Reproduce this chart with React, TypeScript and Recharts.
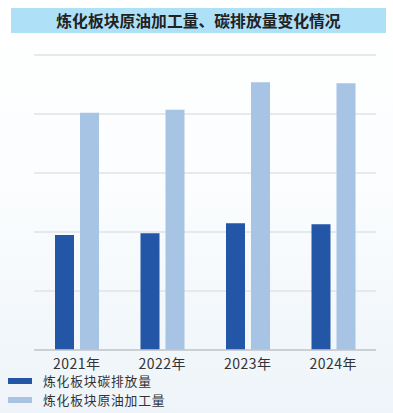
import React from "react";
import { BarChart, Bar, XAxis, YAxis, CartesianGrid } from "recharts";

const years = ["2021年", "2022年", "2023年", "2024年"];
const carbonEmission = [1.95, 1.98, 2.15, 2.13];
const crudeProcessing = [4.02, 4.07, 4.54, 4.52];
const yTicks = [0, 1, 2, 3, 4, 5];

const seriesNames = ["炼化板块碳排放量", "炼化板块原油加工量"];
const DARK = "#2356a6";
const LIGHT = "#a8c4e4";

const data = years.map((year, i) => ({
  year,
  carbon: carbonEmission[i],
  crude: crudeProcessing[i],
}));

const font = '"Noto Sans CJK SC", "Noto Sans", sans-serif';

export default function App() {
  return (
    <div
      style={{
        position: "absolute",
        left: 0,
        top: 0,
        width: 393,
        height: 413,
        overflow: "hidden",
        fontFamily: font,
        background: "linear-gradient(180deg, #ffffff 0%, #fbfdfe 45%, #eef4f9 100%)",
      }}
    >
      <div
        style={{
          position: "absolute",
          left: 11,
          top: 8,
          width: 375,
          height: 25,
          background: "#aee0f8",
          color: "#222",
          fontWeight: 700,
          fontSize: 15.8,
          lineHeight: "25px",
          textAlign: "center",
        }}
      >
        炼化板块原油加工量、碳排放量变化情况
      </div>
      <div style={{ position: "absolute", left: 0, top: 0 }}>
        <BarChart
          width={393}
          height={375}
          data={data}
          margin={{ top: 55, right: 17, bottom: 5, left: 34 }}
          barSize={19}
          barGap={6}
        >
          <CartesianGrid vertical={false} stroke="#dfe3e7" strokeWidth={1.5} />
          <YAxis hide domain={[0, 5]} ticks={yTicks} />
          <XAxis
            dataKey="year"
            height={20}
            tickLine={false}
            axisLine={{ stroke: "#c4c9ce", strokeWidth: 1.5 }}
            tickMargin={3}
            tick={{ fill: "#333", fontSize: 14, fontFamily: font, letterSpacing: 0.5 }}
          />
          <Bar dataKey="carbon" name={seriesNames[0]} fill={DARK} isAnimationActive={false} />
          <Bar dataKey="crude" name={seriesNames[1]} fill={LIGHT} isAnimationActive={false} />
        </BarChart>
      </div>
      {seriesNames.map((name, i) => (
        <div
          key={name}
          style={{
            position: "absolute",
            left: 8,
            top: 374 + i * 18.5,
            height: 14,
            lineHeight: "14px",
            display: "flex",
            alignItems: "center",
            fontSize: 12.8,
            letterSpacing: 0.8,
            color: "#333",
          }}
        >
          <span
            style={{
              display: "inline-block",
              width: 24,
              height: 6,
              background: i === 0 ? DARK : LIGHT,
              marginRight: 11,
            }}
          />
          {name}
        </div>
      ))}
    </div>
  );
}
